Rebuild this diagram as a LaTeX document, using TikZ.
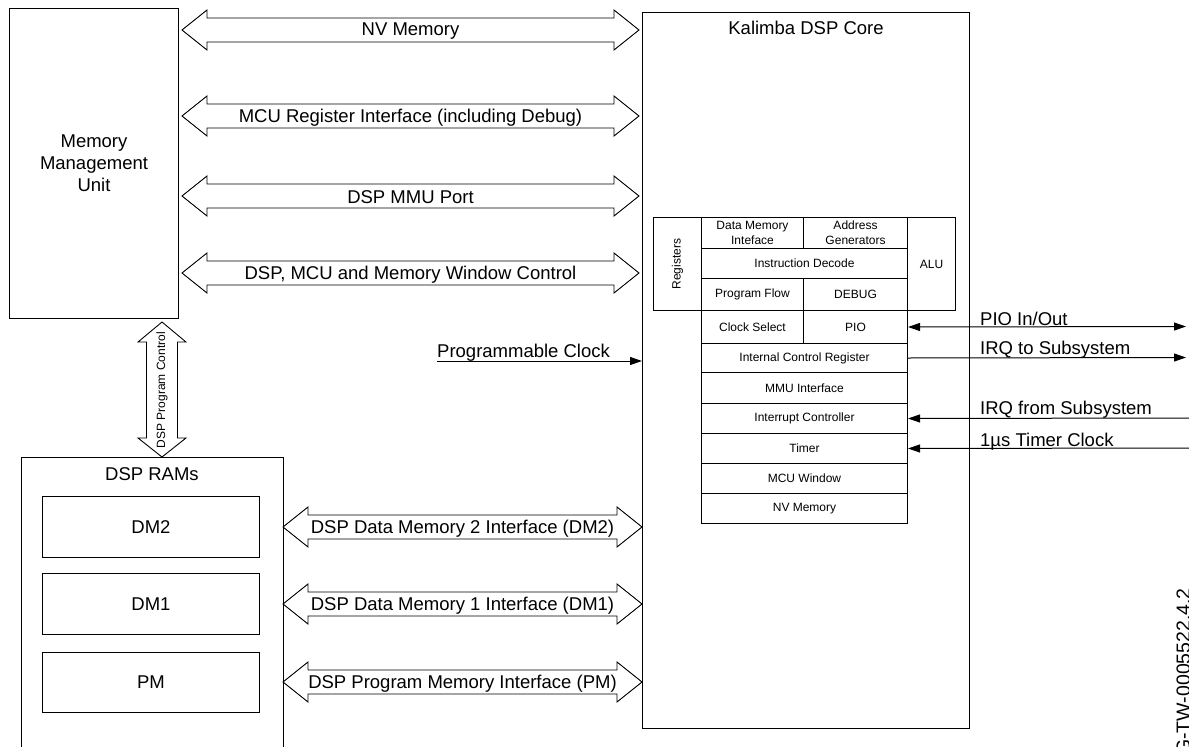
\documentclass[tikz,border=0pt]{standalone}
\usepackage{fontspec}
\setmainfont{Liberation Sans}
\usetikzlibrary{arrows.meta}
\newcommand\fatH[4]{% x1, x2, y, label
  \draw[fat] (#1,#3) -- (#1+25,#3-20) -- (#1+25,#3-12) -- (#2-25,#3-12) -- (#2-25,#3-20) -- (#2,#3)
    -- (#2-25,#3+20) -- (#2-25,#3+12) -- (#1+25,#3+12) -- (#1+25,#3+20) -- cycle;
  \node[big] at ({(#1+#2)/2},#3+1.5) {#4};}
\begin{document}
\begin{tikzpicture}[x=1pt,y=-1pt,
  box/.style={draw, line width=1pt, inner sep=0pt, anchor=north west},
  cell/.style={draw, line width=1pt, inner sep=0pt, anchor=north west, align=center,
    font=\fontsize{12}{15}\selectfont},
  big/.style={font=\fontsize{18.5}{22}\selectfont, inner sep=0pt},
  small/.style={font=\fontsize{12}{15}\selectfont, inner sep=0pt},
  sig/.style={line width=1pt, -{Triangle[length=12pt,width=8pt]}},
  sigboth/.style={line width=1pt, {Triangle[length=12pt,width=8pt]}-{Triangle[length=12pt,width=8pt]}},
  fat/.style={draw, line width=0.9pt, fill=white, line join=miter}]
\useasboundingbox (0,0) rectangle (1189,747);

% main blocks
\node[box, minimum width=169pt, minimum height=310pt, align=center, big] (mmu) at (9,8)
  {Memory\\Management\\Unit};
\node[box, minimum width=327pt, minimum height=716pt] (core) at (642,12) {};
\node[big] (coret) at (806,28) {Kalimba DSP Core};
\node[box, minimum width=262pt, minimum height=310pt] (rams) at (21,457) {};
\node[big] (ramst) at (152,474) {DSP RAMs};
\node[box, minimum width=217pt, minimum height=61pt, big] (dm2) at (42,496) {DM2};
\node[box, minimum width=217pt, minimum height=61pt, big] (dm1) at (42,573) {DM1};
\node[box, minimum width=217pt, minimum height=60pt, big] (pm) at (42,652) {PM};

% core internals
\node[cell, minimum width=48pt, minimum height=93pt] (regs) at (653,217) {};
\node[small, rotate=90] at (regs.center) {Registers};
\node[cell, minimum width=102pt, minimum height=31pt] (dmi) at (701,217) {Data Memory\\Inteface};
\node[cell, minimum width=104pt, minimum height=31pt] (ag) at (803,217) {Address\\Generators};
\node[cell, minimum width=48pt, minimum height=93pt] (alu) at (907,217) {ALU};
\node[cell, minimum width=206pt, minimum height=30pt] (idec) at (701,248) {Instruction Decode};
\node[cell, minimum width=102pt, minimum height=32pt] (pflow) at (701,278) {Program Flow};
\node[cell, minimum width=104pt, minimum height=32pt] (dbg) at (803,278) {DEBUG};
\node[cell, minimum width=102pt, minimum height=33pt] (clk) at (701,310) {Clock Select};
\node[cell, minimum width=104pt, minimum height=33pt] (pio) at (803,310) {PIO};
\node[cell, minimum width=206pt, minimum height=29pt] (icr) at (701,343) {Internal Control Register};
\node[cell, minimum width=206pt, minimum height=31pt] (mmui) at (701,372) {MMU Interface};
\node[cell, minimum width=206pt, minimum height=30pt] (intc) at (701,403) {Interrupt Controller};
\node[cell, minimum width=206pt, minimum height=30pt] (tmr) at (701,433) {Timer};
\node[cell, minimum width=206pt, minimum height=30pt] (mcuw) at (701,463) {MCU Window};
\node[cell, minimum width=206pt, minimum height=30pt] (nvm) at (701,493) {NV Memory};

% fat arrows MMU <-> core
\fatH{182}{639}{30}{NV Memory}
\fatH{182}{639}{116}{MCU Register Interface (including Debug)}
\fatH{182}{639}{196}{DSP MMU Port}
\fatH{182}{639}{273}{DSP, MCU and Memory Window Control}
% fat arrows RAMs <-> core
\fatH{283}{642}{527}{DSP Data Memory 2 Interface (DM2)}
\fatH{283}{642}{604}{DSP Data Memory 1 Interface (DM1)}
\fatH{283}{642}{682}{DSP Program Memory Interface (PM)}

% vertical fat arrow
\draw[fat] (162,322) -- (186,342) -- (177.5,342) -- (177.5,438) -- (186,438) -- (162,457)
  -- (138,438) -- (146.5,438) -- (146.5,342) -- (138,342) -- cycle;
\node[small, rotate=90] (dpc) at (162,390) {DSP Program Control};

% programmable clock
\coordinate (pcin) at (437,361);
\draw[sig] (pcin) -- (pcin -| core.west);
\node[big, anchor=south west] (pct) at (437,362) {Programmable Clock};

% right-hand signals
\coordinate (pioout) at (1186,326.5);
\coordinate (irqout) at (1186,357.5);
\coordinate (irqin) at (1189,418);
\coordinate (tmrin) at (1189,448);
\draw[sigboth] (pio.east) -- (pioout);
\draw[sig] (icr.east) -- (irqout);
\draw[sig] (irqin) -- (intc.east);
\draw[sig] (tmrin) -- (tmr.east);
\node[big, anchor=west] (piot) at (980,319) {PIO In/Out};
\node[big, anchor=west] (irqot) at (980,350) {IRQ to Subsystem};
\node[big, anchor=west] (irqit) at (980,410) {IRQ from Subsystem};
\node[big, anchor=west] (tmrt) at (980,442) {1µs Timer Clock};

% document id
\node[font=\fontsize{19.5}{22}\selectfont, inner sep=0pt, rotate=90, anchor=base east] (docid)
  at (1190,588) {G-TW-0005522.4.2};
\end{tikzpicture}
\end{document}
